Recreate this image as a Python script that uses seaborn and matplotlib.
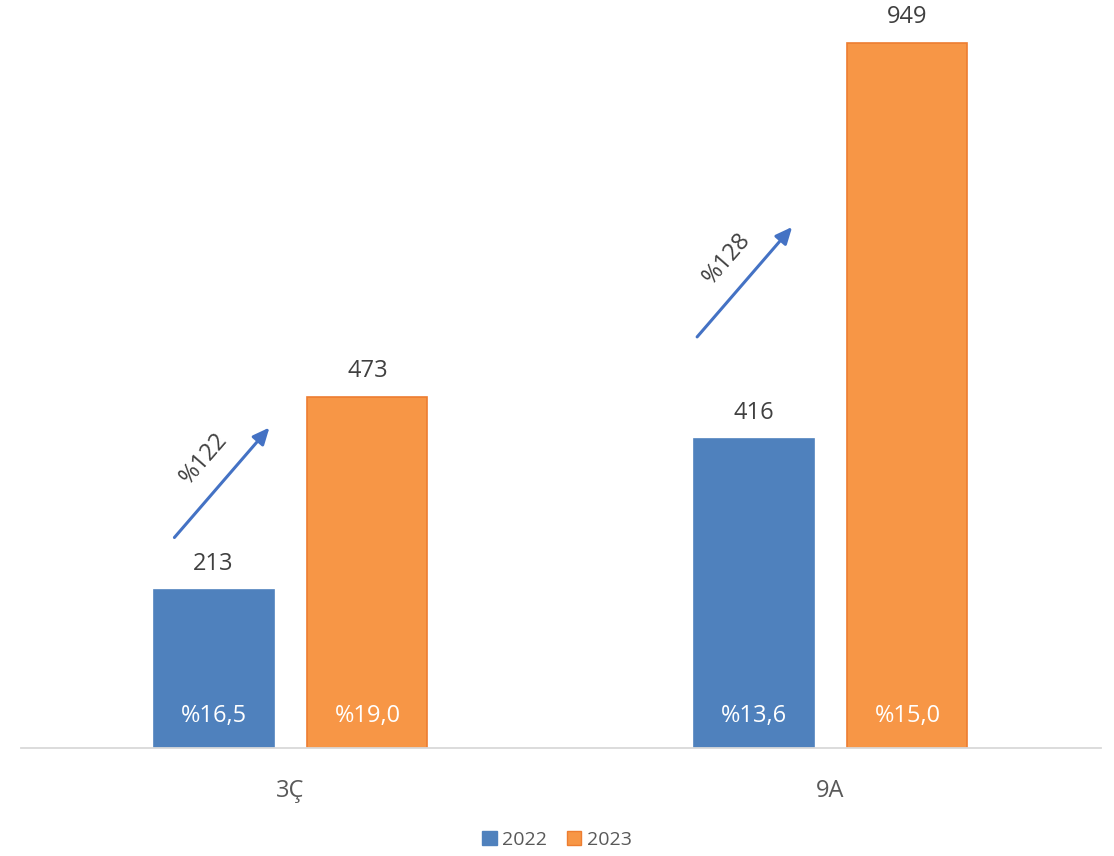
import matplotlib.pyplot as plt
import seaborn as sns
import pandas as pd
import numpy as np

categories = ["3Ç", "9A"]
years = ["2022", "2023"]
values_2022 = [213, 416]
values_2023 = [473, 949]
share_2022 = ["%16,5", "%13,6"]
share_2023 = ["%19,0", "%15,0"]

df = pd.DataFrame({
    "cat": categories * 2,
    "year": [years[0]] * 2 + [years[1]] * 2,
    "value": values_2022 + values_2023,
})

sns.set_style("white")
plt.rcParams['font.family'] = ['Open Sans', 'DejaVu Sans']

W, H = 1114, 856
fig = plt.figure(figsize=(W / 100, H / 100), dpi=100)
ax = fig.add_axes([20.5 / W, 108 / H, 1080 / W, 743 / H])

palette = {"2022": "#4F81BD", "2023": "#F79646"}
sns.barplot(data=df, x="cat", y="value", hue="year", order=categories,
            hue_order=years, palette=palette, width=0.57, gap=0.22,
            saturation=1, ax=ax, legend=False)

edges = {"2022": "#4F81BD", "2023": "#ED7D31"}
for cont, yr in zip(ax.containers, years):
    for bar in cont:
        bar.set_edgecolor(edges[yr])
        bar.set_linewidth(1.2)

ax.set_xlim(-0.5, 1.5)
ax.set_ylim(0, 1000)
ax.set_xlabel("")
ax.set_ylabel("")
ax.set_yticks([])
for s in ["left", "right", "top"]:
    ax.spines[s].set_visible(False)
ax.spines["bottom"].set_color("#D9D9D9")
ax.spines["bottom"].set_linewidth(1.3)
ax.tick_params(axis="x", length=0, pad=22, labelsize=17, labelcolor="#595959")

txt = "#404040"
for cont, shares in zip(ax.containers, [share_2022, share_2023]):
    for bar, sh in zip(cont, shares):
        cx = bar.get_x() + bar.get_width() / 2
        h = bar.get_height()
        ax.annotate(f"{h:.0f}", (cx, h), xytext=(0, 10), textcoords="offset points",
                    ha="center", va="bottom", fontsize=17, color=txt)
        ax.annotate(sh, (cx, 0), xytext=(0, 23), textcoords="offset points",
                    ha="center", va="center", fontsize=17, color="white")

# growth arrows, start offset from category centre
arrow_dx = [-0.215, -0.247]
for i, (a, b) in enumerate(zip(values_2022, values_2023)):
    growth = round((b / a - 1) * 100)
    y0 = a * 1.33
    x0 = i + arrow_dx[i]
    x1 = x0 + 0.176
    y1 = y0 + 148
    ax.annotate("", xy=(x1, y1), xytext=(x0, y0),
                arrowprops=dict(arrowstyle="-|>,head_length=1.0,head_width=0.45",
                                color="#4472C4", lw=2.2, shrinkA=0, shrinkB=0))
    ax.annotate(f"%{growth}", ((x0 + x1) / 2, (y0 + y1) / 2), xytext=(-13, 17),
                textcoords="offset points", ha="center", va="center",
                rotation=49, rotation_mode="anchor", fontsize=17, color=txt)

handles = [plt.Rectangle((0, 0), 1, 1, facecolor=palette[y], edgecolor=edges[y]) for y in years]
fig.legend(handles, years, loc="center", bbox_to_anchor=(0.5, 1 - 840 / H), ncol=2,
           frameon=False, fontsize=14, handlelength=0.75, handleheight=0.75,
           handletextpad=0.3, columnspacing=1.0, labelcolor="#595959")

fig.savefig("out.png", dpi=100)
